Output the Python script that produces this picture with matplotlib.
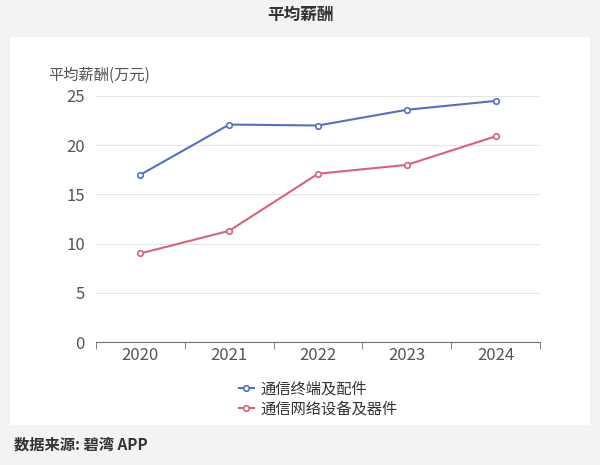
import matplotlib
matplotlib.use("Agg")
import matplotlib.pyplot as plt
from matplotlib import font_manager as fm

names = sorted({f.name for f in fm.fontManager.ttflist if "CJK" in f.name or "Noto" in f.name})
cjk = [n for n in names if "CJK SC" in n] or [n for n in names if "CJK" in n]
plt.rcParams['font.family'] = (cjk[:1] if cjk else []) + ['DejaVu Sans']

years = ["2020", "2021", "2022", "2023", "2024"]
terminal = [17.0, 22.1, 22.0, 23.6, 24.5]
network = [9.0, 11.3, 17.1, 18.0, 20.9]
series_names = ["通信终端及配件", "通信网络设备及器件"]
yticks = [0, 5, 10, 15, 20, 25]

W, H = 600, 465
fig = plt.figure(figsize=(W/100, H/100), dpi=100, facecolor="#f3f3f3")
bg = fig.add_axes([10/W, 1-425/H, 580/W, 388/H], zorder=-1)
bg.set_facecolor("white"); bg.set_xticks([]); bg.set_yticks([])
for s in bg.spines.values(): s.set_visible(False)
ax = fig.add_axes([96/W, 1-342/H, 444/W, 246/H])
ax.set_facecolor("none")
x = range(len(years))
ax.plot(x, terminal, color="#5470c6", lw=1.5, marker="o", ms=4, mfc="white", mew=1.2, label=series_names[0])
ax.plot(x, network, color="#d9627a", lw=1.5, marker="o", ms=4, mfc="white", mew=1.2, label=series_names[1])
ax.set_xlim(-0.5, 4.5)
ax.set_ylim(0, 25)
ax.set_yticks(yticks)
ax.set_xticks(list(x))
ax.set_xticklabels(years)
ax.grid(axis="y", color="#e6e6e6", lw=0.8)
for s in ["top", "right", "left"]:
    ax.spines[s].set_visible(False)
ax.spines["bottom"].set_color("#6e7079")
ax.tick_params(axis="y", length=0, labelsize=12, colors="#555555", pad=8)
ax.tick_params(axis="x", labelsize=12, colors="#555555")
ax.set_xticks([-0.5, 0.5, 1.5, 2.5, 3.5, 4.5], minor=True)
ax.tick_params(axis="x", which="major", length=0)
ax.tick_params(axis="x", which="minor", length=5, color="#6e7079")
ax.set_axisbelow(True)
fig.text(48/W, 1-75/H, "平均薪酬(万元)", fontsize=11, color="#555555", va="center")
fig.text(300/W, 1-15/H, "平均薪酬", fontsize=12, fontweight="bold", color="#333333", ha="center", va="center")
fig.text(14/W, 1-445/H, "数据来源: 碧湾 APP", fontsize=11, fontweight="bold", color="#333333", va="center")
ax.legend(loc="upper center", bbox_to_anchor=(0.5, -0.1), frameon=False, fontsize=11,
          handlelength=1, labelspacing=0.2, handletextpad=0.4, labelcolor="#333333")
fig.savefig("out.png", dpi=100, facecolor=fig.get_facecolor())
